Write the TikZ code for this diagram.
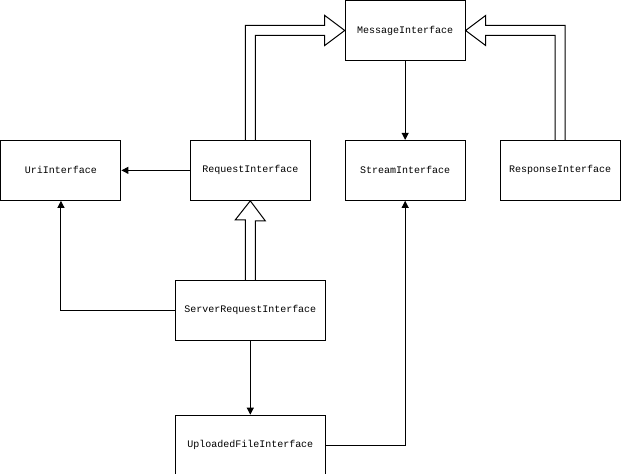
\documentclass[tikz,border=0pt]{standalone}
\usepackage{fontspec}
\setmonofont{Liberation Mono}
\usetikzlibrary{arrows.meta,calc}

\begin{document}
\begin{tikzpicture}[x=1pt,y=-1pt]

    \tikzset{iface/.style = {shape=rectangle,draw,line width=1pt,minimum width=120pt,minimum height=60pt,inner sep=0pt,font=\ttfamily\fontsize{10}{12}\selectfont}}
    \tikzset{wide/.style = {iface,minimum width=150pt}}
    \tikzset{edge/.style = {line width=1pt,-{Triangle[length=7pt,width=7pt]}}}
    \tikzset{bigarrow/.style = {line width=1pt,line join=miter}}
    \useasboundingbox (-0.5,-0.5) rectangle (621,473);
    \node[iface] (msg) at (405,30) {MessageInterface};
    \node[iface] (uri) at (60.5,170) {UriInterface};
    \node[iface] (req) at (250,170) {RequestInterface};
    \node[iface] (stream) at (405,170) {StreamInterface};
    \node[iface] (resp) at (560,170) {ResponseInterface};
    \node[wide] (srv) at (250,310) {ServerRequestInterface};
    \node[wide] (upload) at (250,445) {UploadedFileInterface};
    %inheritance
    \draw[bigarrow] ($(req.north)+(-5,0)$) |- ($(msg.west)+(-20,-5)$) -- ++(0,-10)
        -- (msg.west) -- ++(-20,15) -- ++(0,-10) -| ($(req.north)+(5,0)$);
    \draw[bigarrow] ($(resp.north)+(5,0)$) |- ($(msg.east)+(20,-5)$) -- ++(0,-10)
        -- (msg.east) -- ++(20,15) -- ++(0,-10) -| ($(resp.north)+(-5,0)$);
    \draw[bigarrow] ($(srv.north)+(-5,0)$) -- ++(0,-60) -- ++(-10,0)
        -- (req.south) -- ++(15,20) -- ++(-10,0) -- ($(srv.north)+(5,0)$);
    %edges
    \draw[edge] (msg) to (stream);
    \draw[edge] (req) to (uri);
    \draw[edge] (srv.west) -| (uri.south);
    \draw[edge] (srv) to (upload);
    \draw[edge] (upload.east) -| (stream.south);
\end{tikzpicture}
\end{document}
